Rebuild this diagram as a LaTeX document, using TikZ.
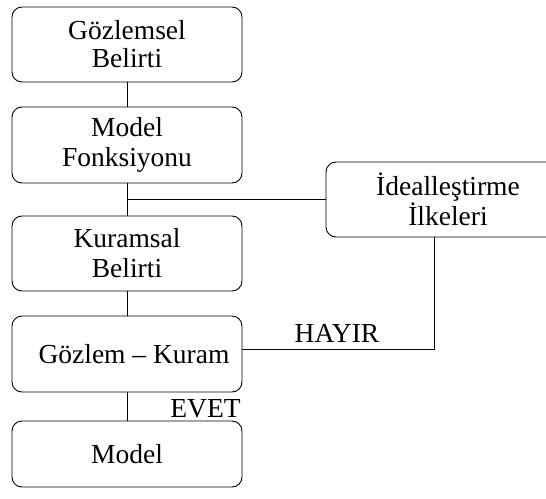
\documentclass[tikz,border=0pt]{standalone}
\usepackage{fontspec}
\setmainfont{Liberation Serif}
\tikzset{
  box/.style={draw, rounded corners=10pt, line width=0.9pt, minimum width=230pt, minimum height=75pt, align=center, inner sep=0pt, font=\fontsize{27.5}{30}\selectfont},
  link/.style={draw, line width=0.9pt},
  tag/.style={inner sep=0pt, font=\fontsize{27.5}{30}\selectfont},
}
\begin{document}
\begin{tikzpicture}[x=1pt,y=-1pt]
\useasboundingbox (0,0) rectangle (546,498);
\node[box, font=\fontsize{27.5}{28}\selectfont] (obs) at (127,44.5) {Gözlemsel\\Belirti};
\node[box, minimum height=76pt] (func) at (127,145) {Model\\Fonksiyonu};
\node[box] (theo) at (127,253.5) {Kuramsal\\Belirti};
\node[box, minimum height=76pt] (comp) at (127,354) {\hspace*{14pt}Gözlem -- Kuram};
\node[box, minimum height=66pt] (model) at (127,454) {Model};
\node[box, minimum width=244pt] (ideal) at (448,199.5) {İdealleştirme\\İlkeleri};
\draw[link] (obs) -- (func);
\draw[link] (func) -- (theo);
\draw[link] (theo) -- (comp);
\draw[link] (comp) -- (model);
\coordinate (fork) at (func.south |- ideal.west);
\draw[link] (fork) -- (ideal.west);
\coordinate (back) at ([yshift=5pt]comp.east);
\draw[link] ([xshift=-14pt]ideal.south) |- (back);
\node[tag, anchor=base] (no) at (337,342) {HAYIR};
\node[tag, anchor=base] (yes) at (205.5,417) {EVET};
\end{tikzpicture}
\end{document}
